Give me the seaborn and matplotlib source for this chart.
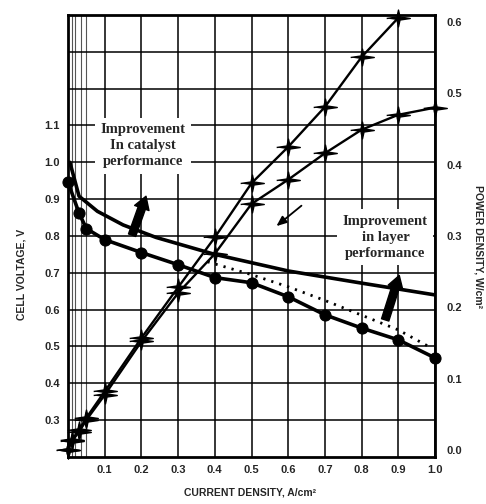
import numpy as np
import pandas as pd
import seaborn as sns
import matplotlib.pyplot as plt

# 데이터
# 기본 셀 전압 (원 마커)
i_base = [0.0, 0.03, 0.05, 0.1, 0.2, 0.3, 0.4, 0.5, 0.6, 0.7, 0.8, 0.9, 1.0]
v_base = [0.946, 0.862, 0.82, 0.79, 0.755, 0.722, 0.687, 0.673, 0.635, 0.586, 0.55, 0.518, 0.469]
# 개선된 셀 전압 (실선)
i_impr = [0.005, 0.03, 0.08, 0.15, 0.24, 0.4, 0.6, 0.8, 1.0]
v_impr = [1.0, 0.908, 0.867, 0.83, 0.796, 0.75, 0.705, 0.672, 0.64]
# 층 개선 전압 (점선)
i_layer = [0.38, 0.5, 0.6, 0.7, 0.8, 0.9, 0.99]
v_layer = [0.73, 0.695, 0.662, 0.625, 0.585, 0.545, 0.496]
# 출력 밀도 (별 마커)
i_pow_low = [0.0, 0.01, 0.03, 0.05, 0.1, 0.2, 0.3, 0.4, 0.5, 0.6, 0.7, 0.8, 0.9, 1.0]
p_pow_low = [0.0, 0.012, 0.025, 0.042, 0.077, 0.152, 0.22, 0.275, 0.345, 0.379, 0.416, 0.449, 0.47, 0.48]
i_pow_high = [0.0, 0.01, 0.03, 0.05, 0.1, 0.2, 0.3, 0.4, 0.5, 0.6, 0.7, 0.8, 0.9]
p_pow_high = [0.0, 0.014, 0.028, 0.045, 0.082, 0.157, 0.228, 0.298, 0.374, 0.425, 0.481, 0.551, 0.606]

x_ticks = [0.1, 0.2, 0.3, 0.4, 0.5, 0.6, 0.7, 0.8, 0.9, 1.0]
v_ticks = [0.3, 0.4, 0.5, 0.6, 0.7, 0.8, 0.9, 1.0, 1.1]
p_ticks = [0.0, 0.1, 0.2, 0.3, 0.4, 0.5, 0.6]

sns.set_style("white")
plt.rcParams['font.family'] = ['Liberation Sans', 'DejaVu Sans']

# 4각 별 모양 마커
star = [(-1.4, 0), (-0.18, 0.18), (0, 1), (0.18, 0.18), (1.4, 0),
        (0.18, -0.18), (0, -1), (-0.18, -0.18)]

fig = plt.figure(figsize=(4.86, 5.04), dpi=100)
ax = fig.add_axes([0.14, 0.0933, 0.755, 0.877])
ax.set_xlim(0, 1.0)
ax.set_ylim(0.2, 1.4)

# 격자
for gx in x_ticks:
    ax.axvline(gx, color='black', lw=1.1, zorder=0)
for gx in [0.01, 0.02, 0.035, 0.05]:
    ax.axvline(gx, color='#555555', lw=0.8, zorder=0)
for gy in np.arange(0.3, 1.4, 0.1):
    ax.axhline(gy, color='black', lw=1.1, zorder=0)

# 전압 곡선
sns.lineplot(x=i_base, y=v_base, ax=ax, color='black', lw=2.6, marker='o',
             markersize=8, markeredgecolor='black', sort=False, clip_on=False, zorder=4)
sns.lineplot(x=i_impr, y=v_impr, ax=ax, color='black', lw=2.6, sort=False, zorder=4)
sns.lineplot(x=i_layer, y=v_layer, ax=ax, color='black', lw=2.0, linestyle=(0, (0.8, 2.2)),
             sort=False, zorder=4)

ax.set_xticks(x_ticks)
ax.set_xticklabels([f"{t:.1f}" for t in x_ticks], fontweight='bold', fontsize=8)
ax.set_yticks(v_ticks)
ax.set_yticklabels([f"{t:.1f}" for t in v_ticks], fontweight='bold', fontsize=8)
ax.tick_params(length=0, pad=6)
ax.set_xlabel("")
ax.set_ylabel("")
for s in ax.spines.values():
    s.set_linewidth(2.0)
    s.set_color('black')

# 출력 밀도 (오른쪽 축)
ax2 = ax.twinx()
ax2.set_position([0.14, 0.0933, 0.755, 0.877])
ax2.set_ylim(-0.01, 0.61)
sns.lineplot(x=i_pow_low, y=p_pow_low, ax=ax2, color='black', lw=1.7, marker=star,
             markersize=17, markeredgewidth=1.0, markeredgecolor='black',
             markerfacecolor='black', sort=False, clip_on=False, zorder=4)
sns.lineplot(x=i_pow_high, y=p_pow_high, ax=ax2, color='black', lw=1.7, marker=star,
             markersize=17, markeredgewidth=1.0, markeredgecolor='black',
             markerfacecolor='black', sort=False, clip_on=False, zorder=4)
ax2.set_yticks(p_ticks)
ax2.set_yticklabels([f"{t:.1f}" for t in p_ticks], fontweight='bold', fontsize=8)
ax2.tick_params(length=0, pad=8)
ax2.set_ylabel("")
for s in ax2.spines.values():
    s.set_visible(False)

# 주석 텍스트와 화살표
serif = ['Liberation Serif', 'DejaVu Serif']
ax.text(0.205, 1.045, "Improvement\nIn catalyst\nperformance", ha='center', va='center',
        fontsize=10.5, fontweight='bold', family=serif, linespacing=1.3, zorder=5,
        bbox=dict(facecolor='white', edgecolor='none', pad=4))
ax.text(0.865, 0.797, "Improvement\nin layer\nperformance", ha='center', va='center',
        fontsize=10.5, fontweight='bold', family=serif, linespacing=1.3, zorder=5,
        bbox=dict(facecolor='white', edgecolor='none', pad=4))

ax.annotate("", xy=(0.215, 0.915), xytext=(0.172, 0.795),
            arrowprops=dict(arrowstyle='simple,head_width=1.1,head_length=0.9,tail_width=0.55',
                            color='black'), zorder=6)
ax.annotate("", xy=(0.905, 0.70), xytext=(0.862, 0.565),
            arrowprops=dict(arrowstyle='simple,head_width=1.1,head_length=0.9,tail_width=0.55',
                            color='black'), zorder=6)
ax.annotate("", xy=(0.562, 0.822), xytext=(0.642, 0.887),
            arrowprops=dict(arrowstyle='-|>,head_width=0.25,head_length=0.6',
                            color='black', lw=1.3), zorder=6)

fig.text(0.045, 0.455, "CELL VOLTAGE, V", rotation=90, ha='center', va='center',
         fontsize=7.5, fontweight='bold')
fig.text(0.515, 0.022, "CURRENT DENSITY, A/cm\u00b2", ha='center', va='center',
         fontsize=7.5, fontweight='bold')
fig.text(0.985, 0.51, "POWER DENSITY, W/cm\u00b2", rotation=270, ha='center', va='center',
         fontsize=7.5, fontweight='bold')

fig.savefig("out.png", dpi=100)
